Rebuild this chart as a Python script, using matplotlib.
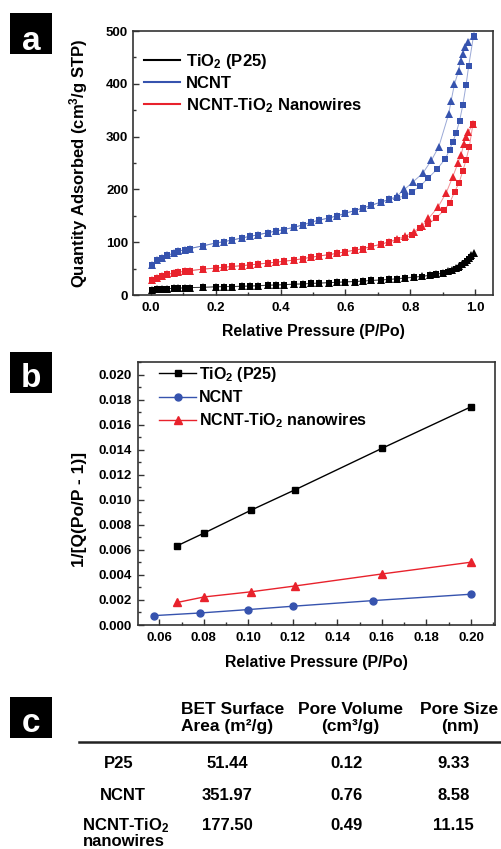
import matplotlib
matplotlib.use("Agg")
import matplotlib.pyplot as plt
from matplotlib.lines import Line2D
from matplotlib.patches import Rectangle
from matplotlib.ticker import MultipleLocator, FormatStrFormatter

plt.rcParams['font.family'] = ['Liberation Sans', 'DejaVu Sans']
plt.rcParams['mathtext.fontset'] = 'custom'
plt.rcParams['mathtext.rm'] = 'Liberation Sans:bold'
plt.rcParams['mathtext.default'] = 'regular'

# ---------------- data: panel a (isotherms) ----------------
p_low = [0.005, 0.02, 0.035, 0.05, 0.07, 0.085, 0.105, 0.12, 0.16, 0.20, 0.225, 0.25, 0.28, 0.305,
         0.33, 0.36, 0.385, 0.41, 0.44, 0.47, 0.495, 0.52, 0.55, 0.575, 0.60, 0.63, 0.655, 0.68, 0.71, 0.735]
ncnt_low = [57, 66, 71, 75, 79, 83, 86, 88, 93, 98.5, 101, 104, 108, 111,
            114, 118, 121, 124, 128, 133, 138, 142, 146, 150, 155, 160, 165, 170, 176, 181]
hyb_low = [28, 33, 36, 39, 41.5, 43, 45, 46, 49, 51, 52.5, 54, 55.5, 57,
           58.5, 60.5, 62, 64, 66, 69, 71.5, 74, 76.5, 79, 82, 85, 88, 92, 96, 101]
p25_low = [9, 10.5, 11.5, 12, 12.5, 13, 13.5, 14, 14.5, 15.5, 16, 16, 16.5, 17,
           17.5, 18.5, 19, 19.5, 20.5, 21, 22, 22.5, 23.5, 24, 25, 25.5, 26.5, 27.5, 28.5, 29.5]

ncnt_tri_p = [0.76, 0.782, 0.808, 0.839, 0.865, 0.888, 0.918, 0.926, 0.936, 0.949, 0.955, 0.962, 0.97, 0.977, 0.995]
ncnt_tri_q = [188, 200, 214, 231, 255, 281, 342, 368, 399, 425, 444, 457, 469, 480, 491]
ncnt_sq_p = [0.76, 0.785, 0.805, 0.83, 0.856, 0.882, 0.908, 0.921, 0.931, 0.941, 0.952, 0.962, 0.972, 0.98, 0.995]
ncnt_sq_q = [184, 188, 195, 206, 222, 238, 258, 275, 290, 306, 330, 360, 398, 434, 491]

hyb_tri_p = [0.76, 0.785, 0.81, 0.835, 0.856, 0.885, 0.911, 0.931, 0.947, 0.957, 0.965, 0.972, 0.979, 0.993]
hyb_tri_q = [106, 112, 120, 130, 145, 166, 194, 224, 250, 266, 286, 300, 309, 323]
hyb_sq_p = [0.76, 0.785, 0.805, 0.83, 0.855, 0.878, 0.905, 0.922, 0.937, 0.95, 0.962, 0.972, 0.982, 0.993]
hyb_sq_q = [104, 108, 114, 126, 134, 145, 161, 175, 196, 212, 235, 256, 281, 323]

p25_tri_p = [0.76, 0.785, 0.81, 0.835, 0.86, 0.88, 0.9, 0.915, 0.93, 0.94, 0.95, 0.96, 0.968, 0.975, 0.982, 0.988, 0.995]
p25_tri_q = [31, 32.5, 34, 35.5, 37.5, 39.5, 42, 45, 48, 51, 55, 59, 63, 67, 71, 75, 79]
p25_sq_p = [0.76, 0.785, 0.81, 0.835, 0.86, 0.88, 0.9, 0.915, 0.93, 0.94, 0.95, 0.96, 0.968, 0.975, 0.982, 0.988]
p25_sq_q = [30.5, 32, 33.5, 35, 37, 39, 41, 43.5, 46, 49, 52, 56, 60, 64, 68, 72]

# ---------------- data: panel b (BET plots) ----------------
bet_p25_x = [0.068, 0.080, 0.101, 0.121, 0.160, 0.200]
bet_p25_y = [0.00633, 0.00734, 0.00916, 0.01081, 0.01412, 0.01744]
bet_ncnt_x = [0.0576, 0.0783, 0.0997, 0.120, 0.1559, 0.200]
bet_ncnt_y = [0.00075, 0.00096, 0.00123, 0.00150, 0.00195, 0.00246]
bet_hyb_x = [0.068, 0.080, 0.101, 0.121, 0.160, 0.200]
bet_hyb_y = [0.00180, 0.00224, 0.00265, 0.00312, 0.00408, 0.00502]

# ---------------- data: panel c (table) ----------------
table_headers = [("BET Surface", "Area (m²/g)"), ("Pore Volume", "(cm³/g)"), ("Pore Size", "(nm)")]
table_rows = ["P25", "NCNT", "NCNT-TiO$_2$\nnanowires"]
table_area = ["51.44", "351.97", "177.50"]
table_volume = ["0.12", "0.76", "0.49"]
table_size = ["9.33", "8.58", "11.15"]

BLUE = '#3653AE'
RED = '#E8222C'
BLACK = '#000000'

W, H = 501, 849
fig = plt.figure(figsize=(W / 100, H / 100), dpi=100)


def fx(px):
    return px / W


def fy(py):
    return 1 - py / H


def style_axes(ax):
    for s in ax.spines.values():
        s.set_linewidth(1.2)
        s.set_color('#333333')
    ax.tick_params(which='both', direction='in', top=False, right=False, width=1.0, color='#333333')
    ax.tick_params(which='major', length=4)
    ax.tick_params(which='minor', length=2.5)
    for lab in ax.get_xticklabels() + ax.get_yticklabels():
        lab.set_fontweight('bold')


# ---------------- panel a ----------------
axa = fig.add_axes([fx(133), fy(295), (493 - 133) / W, (295 - 31) / H])
series_a = [
    (p25_low, p25_tri_p, p25_tri_q, p25_sq_p, p25_sq_q, BLACK, 'TiO$_2$ (P25)'),
    (ncnt_low, ncnt_tri_p, ncnt_tri_q, ncnt_sq_p, ncnt_sq_q, BLUE, 'NCNT'),
    (hyb_low, hyb_tri_p, hyb_tri_q, hyb_sq_p, hyb_sq_q, RED, 'NCNT-TiO$_2$ Nanowires'),
]
for low, tp, tq, sp, sq, col, lab in series_a:
    xs_sq, ys_sq = p_low + sp, low + sq
    xs_tr, ys_tr = p_low + tp, low + tq
    axa.plot(xs_sq, ys_sq, '-', color=col, lw=0.7, alpha=0.5)
    axa.plot(xs_tr, ys_tr, '-', color=col, lw=0.7, alpha=0.5)
    axa.plot(xs_sq, ys_sq, 's', ms=4.2, mec=col, mfc=col, mew=0)
    axa.plot(xs_tr, ys_tr, '^', ms=5.8, mec=col, mfc=col, mew=0)
handles_a = [Line2D([], [], color=c, lw=1.5) for c in (BLACK, BLUE, RED)]
axa.legend(handles_a, [s[6] for s in series_a], loc='upper left', bbox_to_anchor=(0.03, 0.92),
           frameon=False, prop={'weight': 'bold', 'size': 12}, handlelength=2.2,
           handletextpad=0.35, labelspacing=0.3, borderaxespad=0, borderpad=0)
axa.set_xlim(-0.055, 1.055)
axa.set_ylim(0, 500)
axa.xaxis.set_major_locator(MultipleLocator(0.2))
axa.xaxis.set_minor_locator(MultipleLocator(0.1))
axa.yaxis.set_major_locator(MultipleLocator(100))
axa.yaxis.set_minor_locator(MultipleLocator(50))
axa.xaxis.set_major_formatter(FormatStrFormatter('%.1f'))
axa.tick_params(axis='both', labelsize=9.5)
axa.tick_params(axis='x', pad=5)
axa.tick_params(axis='y', pad=3.5)
style_axes(axa)
axa.set_xlabel('Relative Pressure (P/Po)', fontsize=11.4, fontweight='bold')
axa.xaxis.label.set_va('center')
axa.xaxis.set_label_coords(0.5, -(331.7 - 295) / 264)
axa.set_ylabel('Quantity Adsorbed (cm$^3$/g STP)', fontsize=12, fontweight='bold')
axa.yaxis.label.set_va('center')
axa.yaxis.set_label_coords((79 - 133) / 360, 0.5)

# ---------------- panel b ----------------
axb = fig.add_axes([fx(137.7), fy(625), (495 - 137.7) / W, (625 - 362.3) / H])
axb.plot(bet_p25_x, bet_p25_y, '-', color=BLACK, lw=1.0, marker='s', ms=4.5, label='TiO$_2$ (P25)')
axb.plot(bet_ncnt_x, bet_ncnt_y, '-', color=BLUE, lw=1.0, marker='o', ms=5, label='NCNT')
axb.plot(bet_hyb_x, bet_hyb_y, '-', color=RED, lw=1.0, marker='^', ms=5.5, label='NCNT-TiO$_2$ nanowires')
axb.legend(loc='upper left', bbox_to_anchor=(0.06, 0.99), frameon=False,
           prop={'weight': 'bold', 'size': 11.5}, handlelength=2.3, handletextpad=0.2,
           labelspacing=0.4, borderaxespad=0, borderpad=0)
axb.set_xlim(0.0503, 0.2108)
axb.set_ylim(0, 0.021)
axb.xaxis.set_major_locator(MultipleLocator(0.02))
axb.xaxis.set_minor_locator(MultipleLocator(0.01))
axb.yaxis.set_major_locator(MultipleLocator(0.002))
axb.yaxis.set_minor_locator(MultipleLocator(0.001))
axb.xaxis.set_major_formatter(FormatStrFormatter('%.2f'))
axb.yaxis.set_major_formatter(FormatStrFormatter('%.3f'))
axb.tick_params(axis='both', labelsize=9.5)
axb.tick_params(axis='x', pad=5)
axb.tick_params(axis='y', pad=4.3)
style_axes(axb)
axb.set_xlabel('Relative Pressure (P/Po)', fontsize=11.4, fontweight='bold')
axb.xaxis.label.set_va('center')
axb.xaxis.set_label_coords(0.5, -(663 - 625) / 262.7)
axb.set_ylabel('1/[Q(Po/P - 1)]', fontsize=12.5, fontweight='bold')
axb.yaxis.label.set_va('center')
axb.yaxis.set_label_coords((79 - 137.7) / 357.3, (625 - 509) / 262.7)

# ---------------- panel letters ----------------
for letter, top, base in (('a', 13, 49.5), ('b', 352, 386.7), ('c', 697, 731.7)):
    fig.patches.append(Rectangle((fx(10), fy(top + 41)), 42 / W, 41 / H, transform=fig.transFigure,
                                 facecolor='black', edgecolor='none'))
    fig.text(fx(31), fy(base), letter, color='white', fontsize=24, fontweight='bold',
             ha='center', va='baseline')

# ---------------- panel c (table) ----------------
hdr_x = [(232.3, 227), (350, 350), (459, 460)]
for (l1, l2), (x1, x2) in zip(table_headers, hdr_x):
    fig.text(fx(x1), fy(709.3), l1, fontsize=12.5, fontweight='bold', ha='center', va='center')
    fig.text(fx(x2), fy(726.7), l2, fontsize=12.5, fontweight='bold', ha='center', va='center')
fig.add_artist(Line2D([fx(79), fx(501)], [fy(741.7), fy(741.7)], transform=fig.transFigure,
                      color='#222222', lw=1.8))
row_y = [763.3, 795, 825.7]
label_x = [118.3, 123.3, 125.8]
for i, name in enumerate(table_rows):
    if '\n' in name:
        first, second = name.split('\n')
        fig.text(fx(label_x[i]), fy(row_y[i]), first, fontsize=12, fontweight='bold', ha='center', va='center')
        fig.text(fx(124), fy(842), second, fontsize=12, fontweight='bold', ha='center', va='center')
    else:
        fig.text(fx(label_x[i]), fy(row_y[i]), name, fontsize=12, fontweight='bold', ha='center', va='center')
    fig.text(fx(227), fy(row_y[i]), table_area[i], fontsize=12, fontweight='bold', ha='center', va='center')
    fig.text(fx(346.7), fy(row_y[i]), table_volume[i], fontsize=12, fontweight='bold', ha='center', va='center')
    fig.text(fx(453.5), fy(row_y[i]), table_size[i], fontsize=12, fontweight='bold', ha='center', va='center')

fig.savefig('out.png', dpi=100)
